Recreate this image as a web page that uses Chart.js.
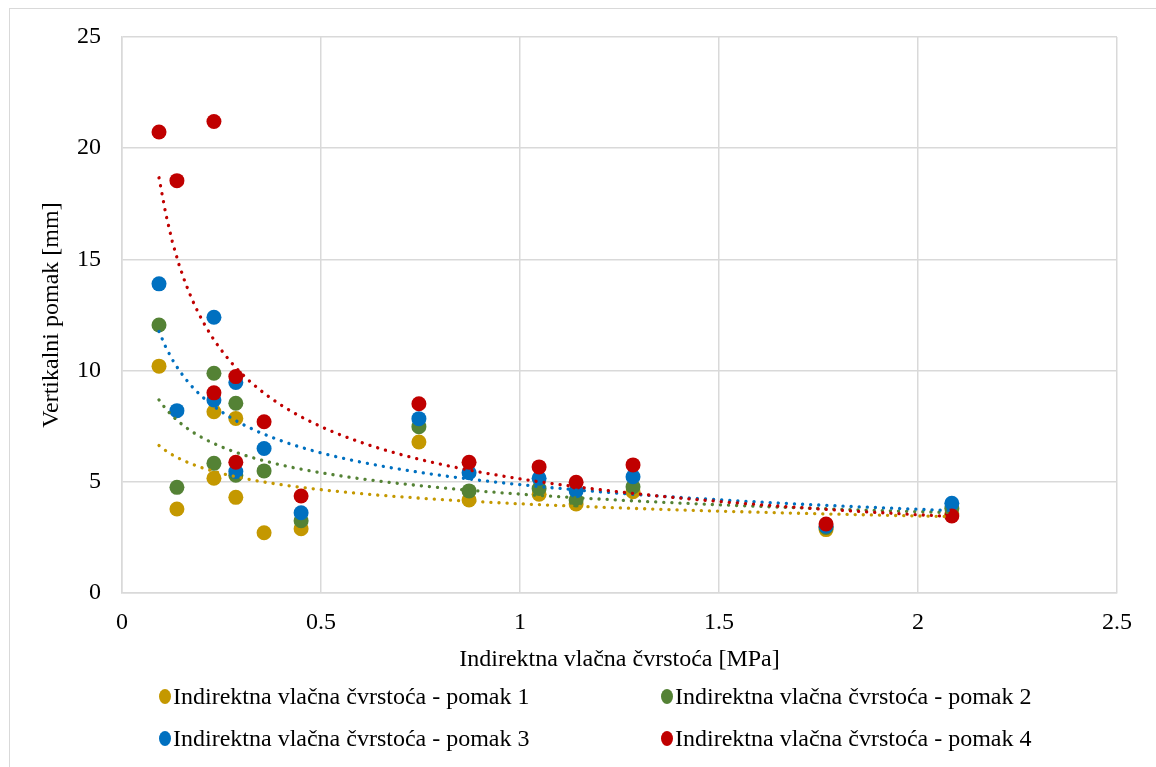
<!DOCTYPE html>
<html>
<head>
<meta charset="utf-8">
<script src="https://cdn.jsdelivr.net/npm/chart.js@4"></script>
<style>
  body { margin: 0; background: #fff; overflow: hidden; }
  #wrap { position: relative; width: 1156px; height: 767px; }
  #frame { position: absolute; left: 9px; top: 8px; width: 1300px; height: 900px; border: 1.5px solid #d9d9d9; }
  #chart { position: absolute; left: 0; top: 0; }
  .legend-item { position: absolute; display: flex; align-items: center; font-family: "Liberation Serif", "Times New Roman", serif; font-size: 24px; color: #000; white-space: nowrap; }
  .legend-item span.dot { width: 12px; height: 15px; border-radius: 50%; display: inline-block; margin-right: 2px; }
</style>
</head>
<body>
<div id="wrap">
  <div id="frame"></div>
  <canvas id="chart" width="1156" height="767"></canvas>
  <div id="legend"></div>
</div>
<script>
// ===== Data =====
const xVals = [0.093, 0.138, 0.231, 0.231, 0.286, 0.286, 0.357, 0.45, 0.746, 0.872, 1.048, 1.141, 1.284, 1.769, 2.085];
const pomak1 = [10.2, 3.78, 8.15, 5.16, 7.85, 4.3, 2.71, 2.89, 6.79, 4.18, 4.44, 4.0, 4.55, 2.85, 3.55];
const pomak2 = [12.05, 4.75, 9.88, 5.83, 8.53, 5.3, 5.49, 3.25, 7.48, 4.59, 4.7, 4.18, 4.78, 2.95, 3.8];
const pomak3 = [13.9, 8.2, 12.4, 8.68, 9.47, 5.46, 6.5, 3.61, 7.84, 5.41, 5.16, 4.6, 5.23, 3.0, 4.03];
const pomak4 = [20.73, 18.54, 21.2, 9.0, 9.73, 5.88, 7.7, 4.36, 8.51, 5.88, 5.67, 4.98, 5.76, 3.1, 3.46];

const seriesNames = [
  'Indirektna vlačna čvrstoća - pomak 1',
  'Indirektna vlačna čvrstoća - pomak 2',
  'Indirektna vlačna čvrstoća - pomak 3',
  'Indirektna vlačna čvrstoća - pomak 4'
];
const seriesColors = ['#C49800', '#548235', '#0070C0', '#C00000'];
const seriesData = [pomak1, pomak2, pomak3, pomak4];

const xTitle = 'Indirektna vlačna čvrstoća [MPa]';
const yTitle = 'Vertikalni pomak [mm]';

// ===== Power trendline (least squares in log-log, like Excel) =====
function powerFit(xs, ys) {
  const n = xs.length;
  let sx = 0, sy = 0, sxx = 0, sxy = 0;
  for (let i = 0; i < n; i++) {
    const lx = Math.log(xs[i]), ly = Math.log(ys[i]);
    sx += lx; sy += ly; sxx += lx * lx; sxy += lx * ly;
  }
  const b = (n * sxy - sx * sy) / (n * sxx - sx * sx);
  const a = Math.exp((sy - b * sx) / n);
  return { a, b };
}

function trendPoints(xs, ys) {
  const { a, b } = powerFit(xs, ys);
  const lo = Math.min(...xs), hi = Math.max(...xs);
  const pts = [];
  const steps = 120;
  for (let i = 0; i <= steps; i++) {
    const x = lo + (hi - lo) * i / steps;
    pts.push({ x, y: a * Math.pow(x, b) });
  }
  return pts;
}

const serif = "'Liberation Serif', 'Times New Roman', serif";

const datasets = [];
seriesData.forEach((ys, i) => {
  datasets.push({
    label: seriesNames[i],
    data: xVals.map((x, j) => ({ x, y: ys[j] })),
    backgroundColor: seriesColors[i],
    borderWidth: 0,
    pointRadius: 7.5,
    showLine: false,
    order: 10 - i
  });
});
seriesData.forEach((ys, i) => {
  datasets.push({
    label: 'trend' + (i + 1),
    data: trendPoints(xVals, ys),
    borderColor: seriesColors[i],
    borderWidth: 3.3,
    borderDash: [0.1, 8],
    borderCapStyle: 'round',
    pointRadius: 0,
    showLine: true,
    tension: 0,
    order: -i
  });
});

const gridColor = '#d9d9d9';

new Chart(document.getElementById('chart').getContext('2d'), {
  type: 'scatter',
  data: { datasets },
  options: {
    responsive: false,
    animation: false,
    events: [],
    layout: { padding: { left: 0, top: 37, right: 39, bottom: 89 } },
    plugins: { legend: { display: false }, tooltip: { enabled: false } },
    scales: {
      x: {
        type: 'linear', min: 0, max: 2.5,
        ticks: {
          stepSize: 0.5, color: '#000', padding: 15, font: { family: serif, size: 24 },
          callback: (v) => String(Number(v.toFixed(2)))
        },
        grid: { color: gridColor, lineWidth: 1.5, drawTicks: false },
        border: { color: gridColor, width: 1.5 },
        title: { display: true, text: xTitle, color: '#000', padding: { top: 0, bottom: 4 }, font: { family: serif, size: 24 } },
        afterFit: (s) => { s.height = 85; }
      },
      y: {
        type: 'linear', min: 0, max: 25,
        ticks: { stepSize: 5, color: '#000', padding: 21, font: { family: serif, size: 24 } },
        grid: { color: gridColor, lineWidth: 1.5, drawTicks: false },
        border: { color: gridColor, width: 1.5 },
        title: { display: true, text: yTitle, color: '#000', padding: { top: 37, bottom: 0 }, font: { family: serif, size: 24 } },
        afterFit: (s) => { s.width = 122; }
      }
    }
  }
});

// ===== Legend (two columns, like the original) =====
const legendPos = [
  { left: 159, top: 696 },
  { left: 661, top: 696 },
  { left: 159, top: 738 },
  { left: 661, top: 738 }
];
document.getElementById('legend').innerHTML = seriesNames.map((name, i) => `
  <div class="legend-item" style="left:${legendPos[i].left}px;top:${legendPos[i].top - 15}px;height:30px;">
    <span class="dot" style="background:${seriesColors[i]};"></span><span>${name}</span>
  </div>`).join('');
</script>
</body>
</html>
